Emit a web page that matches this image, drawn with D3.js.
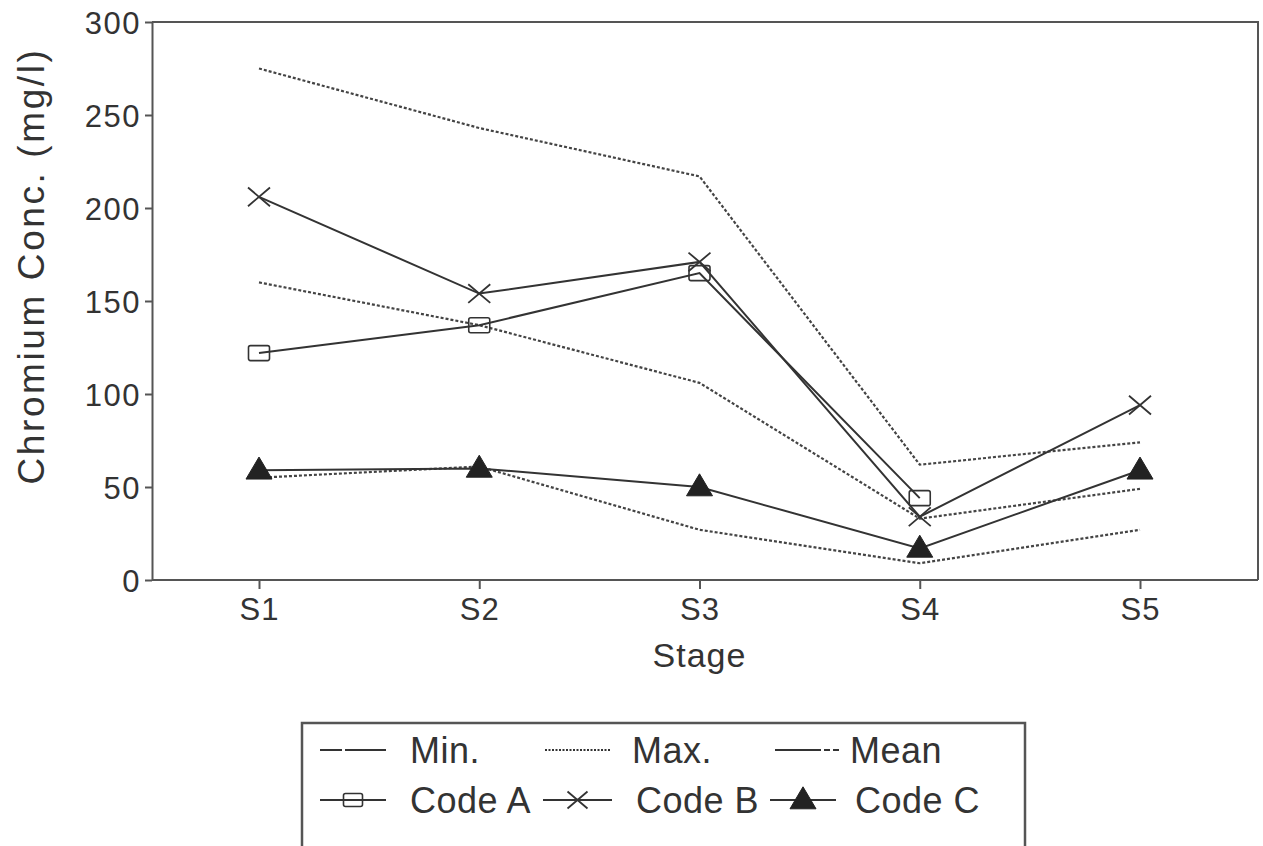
<!DOCTYPE html>
<html>
<head>
<meta charset="utf-8">
<script src="https://cdn.jsdelivr.net/npm/d3@7"></script>
<style>
  html, body { margin: 0; padding: 0; background: #fff; }
  svg { display: block; }
  text { font-family: "Liberation Sans", Arial, Helvetica, sans-serif; fill: #333; }
</style>
</head>
<body>
<svg id="chart" width="1263" height="846"></svg>
<script>
// Chromium concentration by treatment stage
const stages = ["S1", "S2", "S3", "S4", "S5"];
const minVals  = [55, 61, 27, 9, 27];
const maxVals  = [275, 243, 217, 62, 74];
const meanVals = [160, 137, 106, 33, 49];
const codeA = [122, 137, 165, 44, null];
const codeB = [206, 154, 171, 34, 94];
const codeC = [59, 60, 50, 17, 59];
const yTicks = [0, 50, 100, 150, 200, 250, 300];

const ink = "#333";
const svg = d3.select("#chart");

const plot = { left: 152, right: 1258, top: 22, bottom: 580 };
const x = d3.scalePoint().domain(stages).range([259, 1140]);
const y = d3.scaleLinear().domain([0, 300]).range([plot.bottom, plot.top]);

// frame: top and right edges
svg.append("path")
  .attr("d", `M${plot.left},${plot.top}H${plot.right}V${plot.bottom}`)
  .attr("fill", "none").attr("stroke", "#555").attr("stroke-width", 2);

// y axis
const yAxis = svg.append("g")
  .attr("transform", `translate(${plot.left},0)`)
  .call(d3.axisLeft(y).tickValues(yTicks).tickSize(7).tickPadding(4).tickSizeOuter(0));
yAxis.select(".domain").attr("stroke", "#555").attr("stroke-width", 2);
yAxis.selectAll(".tick line").attr("stroke", "#555").attr("stroke-width", 2);
yAxis.selectAll(".tick text")
  .style("font-size", "31px").style("font-family", "Liberation Sans, Arial, sans-serif")
  .style("letter-spacing", "1.5px")
  .attr("fill", ink).attr("dy", "0.36em");

// x axis
const xAxis = svg.append("g")
  .attr("transform", `translate(0,${plot.bottom})`)
  .call(d3.axisBottom(x).tickSize(9).tickPadding(9).tickSizeOuter(0));
xAxis.select(".domain").attr("d", `M${plot.left},0H${plot.right}`)
  .attr("stroke", "#555").attr("stroke-width", 2);
xAxis.selectAll(".tick line").attr("stroke", "#555").attr("stroke-width", 2);
xAxis.selectAll(".tick text")
  .style("font-size", "31px").style("font-family", "Liberation Sans, Arial, sans-serif")
  .style("letter-spacing", "1px")
  .attr("fill", ink);

// axis titles
svg.append("text")
  .attr("x", x("S3")).attr("y", 667)
  .attr("text-anchor", "middle")
  .style("font-size", "34px").style("letter-spacing", "1px")
  .text("Stage");

svg.append("text")
  .attr("transform", "translate(44,266) rotate(-90)")
  .attr("text-anchor", "middle")
  .style("font-size", "37px").style("letter-spacing", "2.6px")
  .text("Chromium Conc. (mg/l)");

// summary lines (dotted)
const line = d3.line()
  .defined(d => d.v != null)
  .x(d => x(d.s)).y(d => y(d.v));
const toPts = arr => arr.map((v, i) => ({ s: stages[i], v }));

[maxVals, meanVals, minVals].forEach(arr => {
  svg.append("path")
    .attr("d", line(toPts(arr)))
    .attr("fill", "none").attr("stroke", "#444")
    .attr("stroke-width", 2.2).attr("stroke-dasharray", "3,2");
});

// code series (solid with markers)
[codeA, codeB, codeC].forEach(arr => {
  svg.append("path")
    .attr("d", line(toPts(arr)))
    .attr("fill", "none").attr("stroke", ink).attr("stroke-width", 2);
});

function drawSquare(g, cx, cy, w, h) {
  g.append("rect")
    .attr("x", cx - w / 2).attr("y", cy - h / 2)
    .attr("width", w).attr("height", h).attr("rx", 2)
    .attr("fill", "none").attr("stroke", ink).attr("stroke-width", 1.6);
}
function drawCross(g, cx, cy, r) {
  g.append("path")
    .attr("d", `M${cx - r},${cy - r * 0.85}L${cx + r},${cy + r * 0.85}M${cx - r},${cy + r * 0.85}L${cx + r},${cy - r * 0.85}`)
    .attr("stroke", ink).attr("stroke-width", 1.8).attr("fill", "none");
}
function drawTriangle(g, cx, cy, w, h) {
  g.append("path")
    .attr("d", `M${cx},${cy - h * 0.6}L${cx + w / 2},${cy + h * 0.4}L${cx - w / 2},${cy + h * 0.4}Z`)
    .attr("fill", "#222").attr("stroke", "#222").attr("stroke-width", 1);
}

const marks = svg.append("g");
toPts(codeA).filter(d => d.v != null).forEach(d => drawSquare(marks, x(d.s), y(d.v), 21, 15));
toPts(codeB).forEach(d => drawCross(marks, x(d.s), y(d.v), 11));
toPts(codeC).forEach(d => drawTriangle(marks, x(d.s), y(d.v), 26, 22));

// legend
const lg = svg.append("g");
lg.append("rect")
  .attr("x", 302).attr("y", 723).attr("width", 723).attr("height", 140)
  .attr("fill", "#fff").attr("stroke", "#555").attr("stroke-width", 2.5);

const row1 = 750, row2 = 800;
const legendLines = [
  { label: "Min.",  x0: 320, x1: 386, dash: "22,3,60", tx: 410 },
  { label: "Max.",  x0: 545, x1: 611, dash: "2,1.5",   tx: 632 },
  { label: "Mean",  x0: 775, x1: 842, dash: "46,3,6,3,6,3", tx: 850 }
];
legendLines.forEach(d => {
  lg.append("line")
    .attr("x1", d.x0).attr("x2", d.x1).attr("y1", row1).attr("y2", row1)
    .attr("stroke", ink).attr("stroke-width", 2.2).attr("stroke-dasharray", d.dash);
  lg.append("text").attr("x", d.tx).attr("y", row1 + 13)
    .style("font-size", "36px").style("letter-spacing", "0.5px").text(d.label);
});

const legendCodes = [
  { label: "Code A", x0: 320, x1: 386, tx: 410, mark: (g, cx, cy) => drawSquare(g, cx, cy, 19, 13) },
  { label: "Code B", x0: 543, x1: 612, tx: 636, mark: (g, cx, cy) => drawCross(g, cx, cy, 10) },
  { label: "Code C", x0: 770, x1: 836, tx: 855, mark: (g, cx, cy) => drawTriangle(g, cx, cy, 26, 22) }
];
legendCodes.forEach(d => {
  lg.append("line")
    .attr("x1", d.x0).attr("x2", d.x1).attr("y1", row2).attr("y2", row2)
    .attr("stroke", ink).attr("stroke-width", 2.2);
  d.mark(lg, (d.x0 + d.x1) / 2, row2);
  lg.append("text").attr("x", d.tx).attr("y", row2 + 13)
    .style("font-size", "36px").style("letter-spacing", "0.5px").text(d.label);
});
</script>
</body>
</html>
